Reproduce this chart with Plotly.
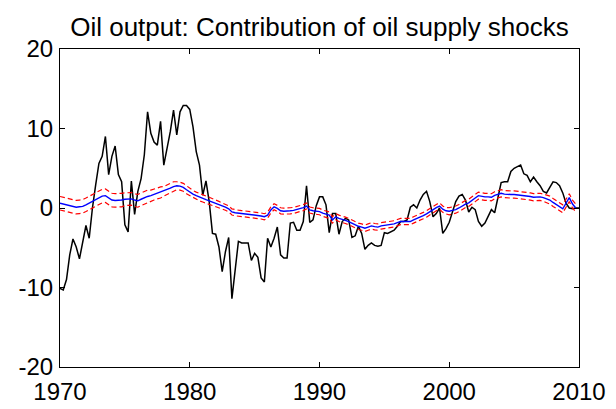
import plotly.graph_objects as go

start_year = 1970
quarter_step = 0.25

# Black line: historical contribution (quarterly, 1970Q1 .. 2010Q1)
actual = [
    -10.1, -10.3, -9.0, -5.9, -3.9, -4.9, -6.4, -4.2, -2.2, -3.8,
    0.0, 2.9, 5.6, 6.5, 9.0, 4.2, 6.5, 7.8, 4.2, 3.3,
    -2.1, -3.0, 3.4, -0.8, 2.1, 3.7, 6.7, 12.1, 9.4, 8.3,
    7.9, 10.9, 5.4, 7.5, 9.6, 12.3, 9.2, 12.1, 12.9, 12.9,
    12.4, 10.2, 7.1, 5.4, 1.6, 3.4, 0.8, -3.2, -3.3, -4.9,
    -8.0, -5.5, -3.7, -11.4, -7.4, -4.2, -4.4, -4.4, -4.4, -6.6,
    -5.7, -6.2, -8.8, -9.3, -3.8, -4.9, -3.8, -2.4, -5.9, -6.3,
    -6.3, -1.9, -1.8, -2.8, -2.8, -1.7, 2.8, -1.8, -1.5, 0.3,
    1.4, 1.4, 0.4, -3.1, -0.7, -0.7, -3.3, -1.7, -1.3, -1.5,
    -3.7, -3.5, -2.3, -3.2, -5.2, -4.7, -4.4, -4.7, -4.8, -4.7,
    -3.1, -3.2, -3.0, -2.8, -2.3, -1.7, -1.7, -1.5, 0.1, 0.4,
    0.0, 1.0, 1.7, 2.1, 0.8, -1.1, -0.7, 0.0, -3.2, -2.6,
    -1.8, -0.5, 0.8, 1.5, 1.7, 1.0, -0.5, 0.1, -0.2, -1.7,
    -2.3, -1.9, -1.0, -0.2, -0.6, 1.2, 3.2, 3.3, 3.3, 4.6,
    5.0, 5.2, 5.4, 4.3, 4.1, 3.3, 3.9, 3.3, 2.8, 2.1,
    1.9, 2.6, 3.3, 3.2, 2.8, 1.9, 0.6, 0.0, -0.1, 0.0,
    0.0,
]

# Blue line: median (quarterly, 1970Q1 .. 2009Q4)
median = [
    0.6, 0.5, 0.4, 0.3, 0.2, 0.1, 0.15, 0.2, 0.4, 0.6,
    0.8, 1.1, 1.3, 1.5, 1.55, 1.3, 1.0, 0.95, 0.95, 1.0,
    1.1, 1.15, 1.15, 1.0, 0.9, 1.1, 1.3, 1.45, 1.55, 1.7,
    1.85, 1.95, 2.1, 2.3, 2.5, 2.7, 2.8, 2.75, 2.6, 2.3,
    2.0, 1.75, 1.55, 1.35, 1.2, 1.05, 0.9, 0.75, 0.6, 0.45,
    0.25, 0.1, -0.1, -0.5, -0.6, -0.65, -0.7, -0.75, -0.75, -0.8,
    -0.85, -0.9, -1.0, -1.1, -0.9, -0.25, 0.15, -0.05, -0.35, -0.4,
    -0.4, -0.35, -0.3, -0.2, -0.1, 0.05, 0.25, -0.25, -0.35, -0.4,
    -0.45, -0.65, -0.8, -0.9, -1.5, -1.1, -1.3, -1.4, -1.55, -1.7,
    -1.9, -2.15, -2.3, -2.4, -2.55, -2.4, -2.25, -2.35, -2.4, -2.25,
    -2.2, -2.15, -2.1, -2.0, -1.85, -1.7, -1.7, -1.7, -1.7, -1.5,
    -1.35, -1.2, -0.95, -0.75, -0.45, -0.15, 0.05, 0.25, -0.15, -0.35,
    -0.4, -0.3, -0.2, 0.0, 0.3, 0.5, 0.65, 0.9, 1.25, 1.55,
    1.45, 1.4, 1.4, 1.35, 1.6, 1.75, 1.85, 1.75, 1.7, 1.7,
    1.7, 1.65, 1.65, 1.6, 1.55, 1.45, 1.35, 1.4, 1.4, 1.3,
    1.15, 1.0, 0.7, 0.45, 0.15, -0.1, 0.6, 1.3, 0.5, 0.0,
]

# Half-width of the red dashed bands around the median
band = [
    0.85, 0.85, 0.85, 0.85, 0.85, 0.85, 0.85, 0.85, 0.85, 0.85,
    0.85, 0.85, 0.85, 0.85, 0.85, 0.85, 0.85, 0.85, 0.85, 0.85,
    0.8, 0.8, 0.8, 0.8, 0.8, 0.8, 0.8, 0.8, 0.7, 0.7,
    0.7, 0.7, 0.6, 0.6, 0.6, 0.6, 0.5, 0.5, 0.5, 0.5,
    0.45, 0.45, 0.45, 0.45, 0.45, 0.45, 0.45, 0.45, 0.38, 0.38,
    0.38, 0.38, 0.38, 0.38, 0.38, 0.38, 0.38, 0.38, 0.38, 0.38,
    0.38, 0.38, 0.38, 0.38, 0.38, 0.38, 0.38, 0.38, 0.38, 0.38,
    0.38, 0.38, 0.38, 0.38, 0.38, 0.38, 0.38, 0.38, 0.38, 0.38,
    0.4, 0.4, 0.4, 0.4, 0.4, 0.4, 0.4, 0.4, 0.4, 0.4,
    0.4, 0.4, 0.4, 0.4, 0.4, 0.4, 0.4, 0.4, 0.4, 0.4,
    0.4, 0.4, 0.4, 0.4, 0.4, 0.4, 0.4, 0.4, 0.4, 0.4,
    0.4, 0.4, 0.4, 0.4, 0.4, 0.4, 0.4, 0.4, 0.4, 0.4,
    0.45, 0.45, 0.45, 0.45, 0.45, 0.45, 0.45, 0.45, 0.45, 0.45,
    0.45, 0.45, 0.45, 0.45, 0.45, 0.45, 0.45, 0.45, 0.45, 0.45,
    0.45, 0.45, 0.45, 0.45, 0.45, 0.45, 0.45, 0.45, 0.45, 0.45,
    0.45, 0.5, 0.5, 0.5, 0.5, 0.5, 0.5, 0.5, 0.5, 0.5,
]

x_ticks = [1970, 1980, 1990, 2000, 2010]
y_ticks = [-20, -10, 0, 10, 20]
title = "Oil output: Contribution of oil supply shocks"

x_actual = [start_year + i * quarter_step for i in range(len(actual))]
x_med = [start_year + i * quarter_step for i in range(len(median))]
upper = [m + b for m, b in zip(median, band)]
lower = [m - b for m, b in zip(median, band)]

fig = go.Figure()
fig.add_trace(go.Scatter(x=x_actual, y=actual, mode="lines",
                         line=dict(color="#000000", width=1.5)))
fig.add_trace(go.Scatter(x=x_med, y=median, mode="lines",
                         line=dict(color="#0000FF", width=1.4)))
fig.add_trace(go.Scatter(x=x_med, y=upper, mode="lines",
                         line=dict(color="#FF0000", width=1.2, dash="5px,3px")))
fig.add_trace(go.Scatter(x=x_med, y=lower, mode="lines",
                         line=dict(color="#FF0000", width=1.2, dash="5px,3px")))

# The page body adds an 8px offset, so the figure is sized/margined to compensate
W, H = 608, 401
font_family = "Liberation Sans, Arial, sans-serif"
fig.update_layout(
    width=W, height=H,
    margin=dict(l=52, r=37, t=41, b=42, autoexpand=False),
    paper_bgcolor="white", plot_bgcolor="white",
    showlegend=False,
    font=dict(family=font_family, size=24, color="black"),
    title=dict(text=title, x=0.5, xref="paper", xanchor="center",
               y=1 - 19 / H, yref="container", yanchor="middle",
               font=dict(family=font_family, size=26, color="black")),
)
fig.update_xaxes(range=[1970, 2010], tickvals=x_ticks,
                 ticktext=[str(t) for t in x_ticks], automargin=False,
                 showgrid=False, zeroline=False, showline=True,
                 linecolor="black", linewidth=1, mirror="ticks",
                 ticks="inside", ticklen=5, tickwidth=1, tickcolor="black",
                 ticklabelstandoff=3,
                 tickfont=dict(family=font_family, size=24, color="black"))
fig.update_yaxes(range=[-20, 20], tickvals=y_ticks,
                 ticktext=[str(t) for t in y_ticks], automargin=False,
                 showgrid=False, zeroline=False, showline=True,
                 linecolor="black", linewidth=1, mirror="ticks",
                 ticks="inside", ticklen=5, tickwidth=1, tickcolor="black",
                 ticklabelstandoff=1,
                 tickfont=dict(family=font_family, size=24, color="black"))

fig.write_html("out.html")
